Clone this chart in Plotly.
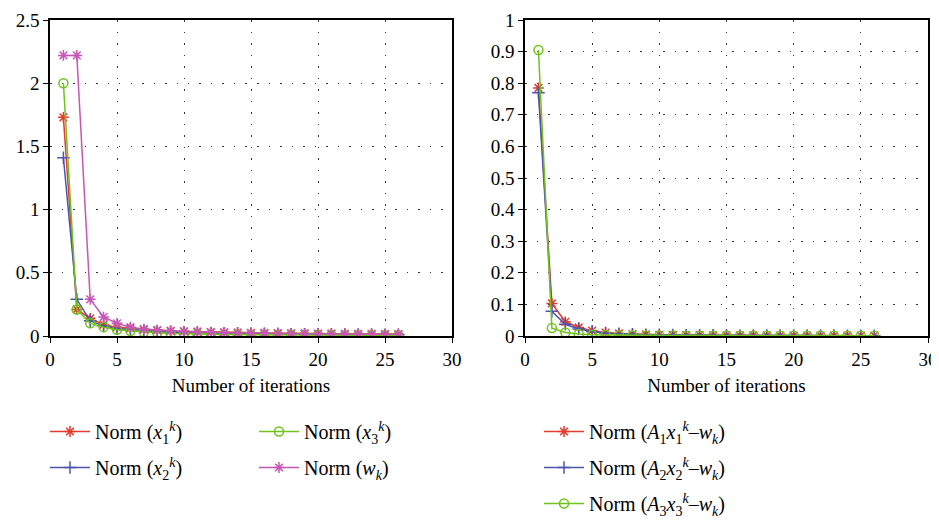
import plotly.graph_objects as go

iterations = list(range(1, 27))

# Left panel
norm_x1 = [1.73, 0.21, 0.14, 0.09, 0.07, 0.06, 0.05, 0.045, 0.04, 0.037, 0.034, 0.031, 0.029,
           0.027, 0.025, 0.024, 0.022, 0.021, 0.020, 0.019, 0.018, 0.017, 0.016, 0.016, 0.015, 0.014]
norm_x2 = [1.41, 0.29, 0.12, 0.08, 0.06, 0.05, 0.04, 0.035, 0.03, 0.027, 0.025, 0.022, 0.020,
           0.019, 0.017, 0.016, 0.015, 0.014, 0.013, 0.012, 0.012, 0.011, 0.010, 0.010, 0.009, 0.009]
norm_x3 = [2.0, 0.21, 0.10, 0.07, 0.05, 0.04, 0.03, 0.025, 0.02, 0.017, 0.015, 0.013, 0.012,
           0.011, 0.010, 0.009, 0.008, 0.008, 0.007, 0.007, 0.006, 0.006, 0.006, 0.005, 0.005, 0.005]
norm_w = [2.22, 2.22, 0.29, 0.15, 0.10, 0.07, 0.055, 0.047, 0.041, 0.036, 0.032, 0.029, 0.027,
          0.025, 0.023, 0.021, 0.020, 0.019, 0.018, 0.017, 0.016, 0.015, 0.014, 0.014, 0.013, 0.013]

# Right panel
res_1 = [0.785, 0.103, 0.045, 0.027, 0.017, 0.011, 0.008, 0.006, 0.005, 0.004, 0.0035, 0.003, 0.0027,
         0.0024, 0.0022, 0.002, 0.0018, 0.0017, 0.0016, 0.0015, 0.0014, 0.0013, 0.0012, 0.0012, 0.0011, 0.001]
res_2 = [0.77, 0.078, 0.037, 0.022, 0.014, 0.009, 0.007, 0.005, 0.004, 0.0035, 0.003, 0.0026, 0.0023,
         0.0021, 0.0019, 0.0017, 0.0016, 0.0015, 0.0014, 0.0013, 0.0012, 0.0011, 0.0011, 0.001, 0.001, 0.0009]
res_3 = [0.905, 0.025, 0.011, 0.006, 0.004, 0.003, 0.002, 0.0017, 0.0015, 0.0013, 0.0012, 0.0011, 0.001,
         0.0009, 0.0009, 0.0008, 0.0008, 0.0007, 0.0007, 0.0007, 0.0006, 0.0006, 0.0006, 0.0005, 0.0005, 0.0005]

left_names = ["Norm (<i>x</i><sub>1</sub><sup><i>k</i></sup>)",
              "Norm (<i>x</i><sub>2</sub><sup><i>k</i></sup>)",
              "Norm (<i>x</i><sub>3</sub><sup><i>k</i></sup>)",
              "Norm (<i>w</i><sub><i>k</i></sub>)"]
right_names = ["Norm (<i>A</i><sub>1</sub><i>x</i><sub>1</sub><sup><i>k</i></sup>–<i>w</i><sub><i>k</i></sub>)",
               "Norm (<i>A</i><sub>2</sub><i>x</i><sub>2</sub><sup><i>k</i></sup>–<i>w</i><sub><i>k</i></sub>)",
               "Norm (<i>A</i><sub>3</sub><i>x</i><sub>3</sub><sup><i>k</i></sup>–<i>w</i><sub><i>k</i></sub>)"]

RED = "#e53a2f"
BLUE = "#4d55aa"
GREEN = "#6fc41c"
MAG = "#c856b4"
FONT = "Liberation Serif"

fig = go.Figure()

def add(y, name, color, symbol, xa, ya, legend, group):
    fig.add_trace(go.Scatter(
        x=iterations, y=y, name=name, mode="lines+markers",
        line=dict(color=color, width=1.5),
        marker=dict(symbol=symbol, size=9, color=color, line=dict(color=color, width=1.5)),
        xaxis=xa, yaxis=ya, legend=legend, legendgroup=group))

add(norm_x1, left_names[0], RED, "asterisk-open", "x", "y", "legend", "a")
add(norm_x2, left_names[1], BLUE, "cross-thin-open", "x", "y", "legend", "b")
add(norm_x3, left_names[2], GREEN, "circle-open", "x", "y", "legend3", "c")
add(norm_w, left_names[3], MAG, "asterisk-open", "x", "y", "legend3", "d")

add(res_1, right_names[0], RED, "asterisk-open", "x2", "y2", "legend2", "e")
add(res_2, right_names[1], BLUE, "cross-thin-open", "x2", "y2", "legend2", "f")
add(res_3, right_names[2], GREEN, "circle-open", "x2", "y2", "legend2", "g")

W, H = 931, 512
ydom = [1 - 328 / H, 1 - 12 / H]

axis_common = dict(
    showline=True, linecolor="black", linewidth=1.5, mirror=True,
    ticks="outside", ticklen=5, tickcolor="black", automargin=False,
    showgrid=True, gridcolor="#333333", gridwidth=1, griddash="1.5px,10px",
    zeroline=False, tickfont=dict(family=FONT, size=19, color="black"),
)

legend_common = dict(xanchor="left", yanchor="top", bgcolor="rgba(0,0,0,0)",
                     font=dict(family=FONT, size=20, color="black"), tracegroupgap=7, itemwidth=40)

title_font = dict(family=FONT, size=19, color="black")

fig.update_layout(
    width=W, height=H,
    margin=dict(l=0, r=0, t=0, b=0, autoexpand=False),
    paper_bgcolor="white", plot_bgcolor="white",
    font=dict(family=FONT, size=19, color="black"),
    xaxis=dict(domain=[42 / W, 444 / W], range=[0, 30], dtick=5, anchor="y",
               title=dict(text="Number of iterations", font=title_font, standoff=10),
               **axis_common),
    yaxis=dict(domain=ydom, range=[0, 2.5], dtick=0.5, anchor="x", **axis_common),
    xaxis2=dict(domain=[517 / W, 920 / W], range=[0, 30], dtick=5, anchor="y2",
                title=dict(text="Number of iterations", font=title_font, standoff=10),
                **axis_common),
    yaxis2=dict(domain=ydom, range=[0, 1], dtick=0.1, anchor="x2", **axis_common),
    legend=dict(x=37 / W, y=1 - 404 / H, **legend_common),
    legend3=dict(x=246 / W, y=1 - 404 / H, **legend_common),
    legend2=dict(x=531 / W, y=1 - 404 / H, **legend_common),
)

fig.write_html("out.html")
